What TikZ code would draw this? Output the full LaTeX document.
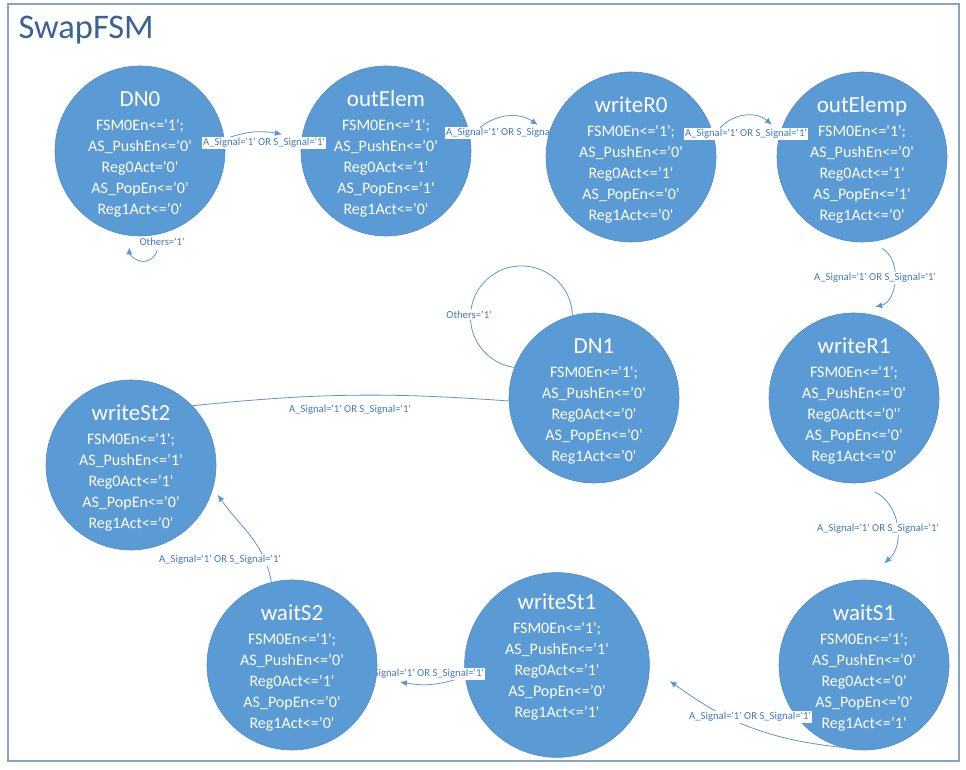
\documentclass[tikz,border=0pt]{standalone}
\usepackage{fontspec}
\setmainfont{Carlito}[Ligatures=TeXOff]
\usepackage{tikz}
\usetikzlibrary{arrows.meta}
\definecolor{FSMStateBlue}{RGB}{91,155,213}
\definecolor{FSMStateEdge}{RGB}{80,138,193}
\definecolor{FSMLineBlue}{RGB}{91,150,210}
\definecolor{FSMTextBlue}{RGB}{68,120,185}
\definecolor{FSMFrame}{RGB}{135,163,200}
\definecolor{FSMTitle}{RGB}{58,98,146}
\newcommand{\sigtxt}{A\_Signal='1' OR S\_Signal='1'}
\newcommand{\stname}{\fontsize{23}{23}\selectfont\rule{0pt}{21pt}}

\begin{document}
\begin{tikzpicture}[x=1pt,y=1pt,
  st/.style={circle,fill=FSMStateBlue,draw=FSMStateEdge,line width=0.6pt,minimum size=170pt,inner sep=0pt,text=white,align=center,font=\fontsize{16}{21}\selectfont},
  tr/.style={draw=FSMLineBlue,line width=0.8pt,-{Latex[length=7pt,width=6pt]}},
  ln/.style={draw=FSMLineBlue,line width=0.8pt},
  lbl/.style={fill=white,inner sep=1pt,text=FSMTextBlue,font=\fontsize{10.7}{12}\selectfont}]
\useasboundingbox (0,0) rectangle (966,770);
\draw[FSMFrame,line width=1.5pt] (8,766) rectangle (959,9);
\node[anchor=base west,text=FSMTitle,font=\fontsize{34.5}{36}\selectfont] (title) at (15,731) {SwapFSM};

% top row
\node[st] (DN0) at (140,619) {{\stname DN0}\\[3pt]
  FSM0En<='1';\\ AS\_PushEn<=’0'\\ Reg0Act='0'\\ AS\_PopEn<=’0'\\ Reg1Act<=’0'};
\node[st] (outElem) at (386,619) {{\stname outElem}\\[3pt]
  FSM0En<='1';\\ AS\_PushEn<=’0'\\ Reg0Act<=’1'\\ AS\_PopEn<=’1'\\ Reg1Act<=’0'};
\node[lbl] (l2) at (507,637) {\sigtxt};
\node[st] (writeR0) at (631,613) {{\stname writeR0}\\[3pt]
  FSM0En<='1';\\ AS\_PushEn<=’0'\\ Reg0Act<=’1'\\ AS\_PopEn<=’0'\\ Reg1Act<=’0'};
\node[st] (outElemp) at (862,613) {{\stname outElemp}\\[3pt]
  FSM0En<='1';\\ AS\_PushEn<=’0'\\ Reg0Act<=’1'\\ AS\_PopEn<=’1'\\ Reg1Act<=’0'};

% middle row
\node[st] (DN1) at (594,372) {{\stname DN1}\\[3pt]
  FSM0En<='1';\\ AS\_PushEn<=’0'\\ Reg0Act<=’0'\\ AS\_PopEn<=’0'\\ Reg1Act<=’0'};
\node[st] (writeR1) at (854,372) {{\stname writeR1}\\[3pt]
  FSM0En<='1';\\ AS\_PushEn<=’0'\\ Reg0Actt<=’0''\\ AS\_PopEn<=’0'\\ Reg1Act<=’0'};
\node[st] (writeSt2) at (131,305) {{\stname writeSt2}\\[3pt]
  FSM0En<='1';\\ AS\_PushEn<=’1'\\ Reg0Act<=’1'\\ AS\_PopEn<=’0'\\ Reg1Act<=’0'};

% bottom row
\node[st] (writeSt1) at (557,105) {{\stname writeSt1}\\[3pt]
  FSM0En<='1';\\ AS\_PushEn<=’1'\\ Reg0Act<=’1'\\ AS\_PopEn<=’0'\\ Reg1Act<=’1'\rule[-24pt]{0pt}{0pt}};
\coordinate (toWaitS2) at (400,88);
\draw[tr] (writeSt1.187) to[bend left=15] (toWaitS2);
\node[lbl] (l7) at (423,96) {\sigtxt};
\node[st] (waitS2) at (292,105) {{\stname waitS2}\\[3pt]
  FSM0En<='1';\\ AS\_PushEn<=’0'\\ Reg0Act<=’1'\\ AS\_PopEn<=’0'\\ Reg1Act<=’0'};
\node[st] (waitS1) at (864,105) {{\stname waitS1}\\[3pt]
  FSM0En<='1';\\ AS\_PushEn<=’0'\\ Reg0Act<=’0'\\ AS\_PopEn<=’0'\\ Reg1Act<=’1'};

% transitions
\draw[tr] (DN0.8) to[bend left=15] ([shift={(-20,2)}]outElem.170);
\draw[tr] ([shift={(12,0)}]outElem.16) to[bend left=36] ([shift={(-13,3)}]writeR0.160);
\draw[tr] ([shift={(9,0)}]writeR0.20) to[bend left=45] ([shift={(-10,3)}]outElemp.160);
\draw[tr] ([shift={(2,-8)}]outElemp.-78) to[bend left=70] ([shift={(2,8)}]writeR1.77);
\draw[tr] ([shift={(0,-11)}]writeR1.-76) to[bend left=56] ([shift={(4,18)}]waitS1.79);
\draw[tr] (waitS1.255) to[bend left=15] ([shift={(21,-3)}]writeSt1.-8);
\draw[tr] (waitS2.104) to[out=100,in=-55] ([shift={(6,-2)}]writeSt2.-19);
\draw[ln] (writeSt2.44) to[bend left=5] (DN1.182);
\draw[ln] (DN1.159) arc[start angle=262,end angle=2,radius=51];
\draw[tr] ([shift={(17,-14)}]DN0.south) arc[start angle=-12,end angle=-180,radius=14];

% labels
\foreach \x/\y/\n in {264/627/l1,746/636/l3,875/492/l4,878/241/l5,750/53/l6,220/210/l8,350/360/l9}{
  \node[lbl] (\n) at (\x,\y) {\sigtxt};
}
\node[lbl] (oth0) at (162,528) {Others='1'};
\node[lbl] (oth1) at (469,455) {Others=’1'};
\end{tikzpicture}
\end{document}
